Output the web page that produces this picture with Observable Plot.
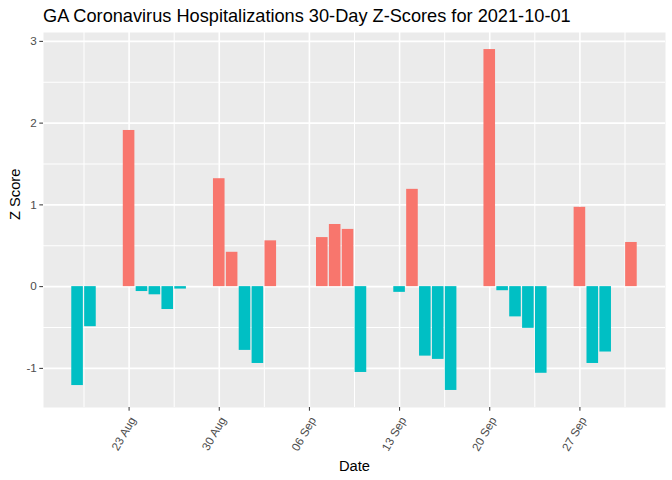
<!DOCTYPE html>
<html>
<head>
<meta charset="utf-8">
<script src="https://cdn.jsdelivr.net/npm/d3@7"></script>
<script src="https://cdn.jsdelivr.net/npm/@observablehq/plot@0.6"></script>
<style>
  html, body { margin: 0; padding: 0; background: #fff; }
  #title { height: 32px; box-sizing: border-box; padding: 7px 0 0 43px; font: 18.2px "Liberation Sans", Arial, sans-serif; line-height: 1; color: #000; white-space: nowrap; }
</style>
</head>
<body>
<div id="title">GA Coronavirus Hospitalizations 30-Day Z-Scores for 2021-10-01</div>
<div id="chart"></div>
<script>
const dates = ["2021-08-19","2021-08-20","2021-08-23","2021-08-24","2021-08-25","2021-08-26","2021-08-27",
  "2021-08-30","2021-08-31","2021-09-01","2021-09-02","2021-09-03",
  "2021-09-07","2021-09-08","2021-09-09","2021-09-10",
  "2021-09-13","2021-09-14","2021-09-15","2021-09-16","2021-09-17",
  "2021-09-20","2021-09-21","2021-09-22","2021-09-23","2021-09-24",
  "2021-09-27","2021-09-28","2021-09-29","2021-10-01"];
const zScores = [-1.21,-0.49,1.91,-0.06,-0.10,-0.28,-0.03,
  1.32,0.42,-0.78,-0.94,0.56,
  0.60,0.76,0.70,-1.05,
  -0.07,1.19,-0.85,-0.89,-1.27,
  2.90,-0.05,-0.37,-0.51,-1.06,
  0.97,-0.94,-0.80,0.54];
const majorTicks = ["2021-08-23","2021-08-30","2021-09-06","2021-09-13","2021-09-20","2021-09-27"];
const yTicks = [-1, 0, 1, 2, 3];
const yMinor = [-1.5, -0.5, 0.5, 1.5, 2.5];
const colors = {pos: "#F8766D", neg: "#00BFC4"};

const DAY = 864e5;
const parse = s => new Date(s + "T00:00:00Z");
const data = dates.map((d, i) => ({date: parse(d), z: zScores[i]}));
const major = majorTicks.map(parse);
const minor = major.map(d => new Date(+d - 3.5 * DAY)).concat([new Date(+major[major.length - 1] + 3.5 * DAY)]);

const xmin = +data[0].date - 0.45 * DAY, xmax = +data[data.length - 1].date + 0.45 * DAY;
const xpad = (xmax - xmin) * 0.05;
const zmin = d3.min(zScores), zmax = d3.max(zScores);
const ypad = (zmax - zmin) * 0.05;

const chart = Plot.plot({
  width: 672,
  height: 448,
  marginTop: 0,
  marginLeft: 43,
  marginRight: 7,
  marginBottom: 73,
  style: {fontFamily: '"Liberation Sans", Arial, sans-serif', background: "#fff"},
  x: {type: "utc", domain: [new Date(xmin - xpad), new Date(xmax + xpad)]},
  y: {domain: [zmin - ypad, zmax + ypad]},
  marks: [
    Plot.frame({fill: "#EBEBEB", stroke: null}),
    Plot.gridX(minor, {stroke: "#fff", strokeOpacity: 1, strokeWidth: 1}),
    Plot.gridY(yMinor, {stroke: "#fff", strokeOpacity: 1, strokeWidth: 1}),
    Plot.gridX(major, {stroke: "#fff", strokeOpacity: 1, strokeWidth: 1.6}),
    Plot.gridY(yTicks, {stroke: "#fff", strokeOpacity: 1, strokeWidth: 1.6}),
    Plot.rectY(data, {
      x1: d => new Date(+d.date - 0.45 * DAY),
      x2: d => new Date(+d.date + 0.45 * DAY),
      y1: 0, y2: "z",
      fill: d => d.z > 0 ? colors.pos : colors.neg
    }),
    Plot.axisX(major, {
      tickFormat: d3.utcFormat("%d %b"),
      tickRotate: -60,
      textAnchor: "end",
      lineAnchor: "top",
      tickSize: 3.7,
      tickPadding: 4.5,
      fontSize: 11.7,
      fill: "#4D4D4D",
      stroke: "#333",
      strokeWidth: 1,
      label: null
    }),
    Plot.axisY(yTicks, {
      tickFormat: d => String(d),
      tickSize: 3.7,
      tickPadding: 3,
      fontSize: 11.7,
      fill: "#4D4D4D",
      stroke: "#333",
      strokeWidth: 1,
      label: null
    }),
    Plot.text(["Date"], {frameAnchor: "bottom", lineAnchor: "bottom", dy: 63, fontSize: 14.7, fill: "#000"}),
    Plot.text(["Z Score"], {frameAnchor: "left", rotate: -90, dx: -24, lineAnchor: "bottom", fontSize: 14.7, fill: "#000"})
  ]
});
document.getElementById("chart").appendChild(chart);
</script>
</body>
</html>
